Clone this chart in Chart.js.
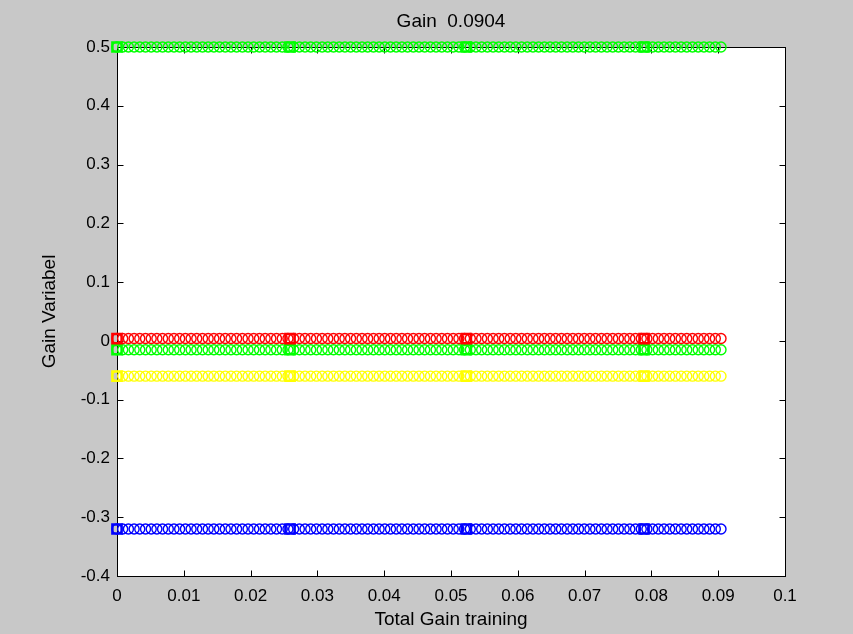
<!DOCTYPE html>
<html>
<head>
<meta charset="utf-8">
<script src="https://cdn.jsdelivr.net/npm/chart.js@4"></script>
<style>
html,body{margin:0;padding:0;background:#c8c8c8;}
#wrap{width:853px;height:634px;}
</style>
</head>
<body>
<div id="wrap"><canvas id="c" width="853" height="634"></canvas></div>
<script>
// Total Gain training values (x) at each recorded step
const trainingX = [0,0.00085,0.00171,0.00256,0.00341,0.00427,0.00512,0.00597,0.00682,0.00768,
0.00853,0.00938,0.01024,0.01109,0.01194,0.0128,0.01365,0.0145,0.01535,0.01621,
0.01706,0.01791,0.01877,0.01962,0.02047,0.02133,0.02218,0.02303,0.02388,0.02474,
0.02559,0.02644,0.0273,0.02815,0.029,0.02986,0.03071,0.03156,0.03241,0.03327,
0.03412,0.03497,0.03583,0.03668,0.03753,0.03839,0.03924,0.04009,0.04094,0.0418,
0.04265,0.0435,0.04436,0.04521,0.04606,0.04692,0.04777,0.04862,0.04947,0.05033,
0.05118,0.05203,0.05289,0.05374,0.05459,0.05545,0.0563,0.05715,0.058,0.05886,
0.05971,0.06056,0.06142,0.06227,0.06312,0.06398,0.06483,0.06568,0.06653,0.06739,
0.06824,0.06909,0.06995,0.0708,0.07165,0.07251,0.07336,0.07421,0.07506,0.07592,
0.07677,0.07762,0.07848,0.07933,0.08018,0.08104,0.08189,0.08274,0.08359,0.08445,
0.0853,0.08615,0.08701,0.08786,0.08871,0.08957,0.09042];
// Square markers
const squareX = [0, 0.0259, 0.0523, 0.0789];
// Gain variable levels per series
const seriesNames = ["green top", "red", "green", "yellow", "blue"];
const seriesLevels = [0.5, 0.004, -0.015, -0.06, -0.32];
const seriesColors = ["#00ff00", "#ff0000", "#00ff00", "#ffff00", "#0000ff"];
// Tick labels
const xTicks = ["0","0.01","0.02","0.03","0.04","0.05","0.06","0.07","0.08","0.09","0.1"];
const yTicks = ["0.5","0.4","0.3","0.2","0.1","0","-0.1","-0.2","-0.3","-0.4"];
const titleText = "Gain  0.0904";

const FAMILY = "'Liberation Sans', Arial, sans-serif";
const FONT = {family: FAMILY, size: 17};
const BIG = {family: FAMILY, size: 19, weight: 'normal'};

const datasets = [];
seriesLevels.forEach((lvl, i) => {
  datasets.push({
    label: seriesNames[i] + " squares",
    data: squareX.map(x => ({x: x, y: lvl})),
    pointStyle: 'rect', pointRadius: 6.5, borderWidth: 2.5,
    borderColor: seriesColors[i], backgroundColor: 'rgba(0,0,0,0)',
    showLine: false, clip: false
  });
  datasets.push({
    label: seriesNames[i],
    data: trainingX.map(x => ({x: x, y: lvl})),
    pointStyle: 'circle', pointRadius: 5, borderWidth: 1.4,
    borderColor: seriesColors[i], backgroundColor: 'rgba(0,0,0,0)',
    showLine: false, clip: false
  });
});

const boxPlugin = {
  id: 'box',
  beforeDraw(chart) {
    const {ctx, chartArea: a} = chart;
    ctx.save();
    ctx.fillStyle = '#c8c8c8';
    ctx.fillRect(0, 0, chart.width, chart.height);
    ctx.fillStyle = '#ffffff';
    ctx.fillRect(a.left, a.top, a.right - a.left, a.bottom - a.top);
    ctx.restore();
  },
  beforeDatasetsDraw(chart) {
    const {ctx, chartArea: a, scales} = chart;
    ctx.save();
    ctx.strokeStyle = '#000000';
    ctx.lineWidth = 1;
    const L = Math.round(a.left) + 0.5, R = Math.round(a.right) + 0.5;
    const T = Math.round(a.top) + 0.5, B = Math.round(a.bottom) + 0.5;
    ctx.strokeRect(L, T, R - L, B - T);
    const tl = 6;
    ctx.beginPath();
    scales.x.ticks.forEach(t => {
      const px = Math.round(scales.x.getPixelForValue(t.value)) + 0.5;
      ctx.moveTo(px, B); ctx.lineTo(px, B - tl);
      ctx.moveTo(px, T); ctx.lineTo(px, T + tl);
    });
    scales.y.ticks.forEach(t => {
      const py = Math.round(scales.y.getPixelForValue(t.value)) + 0.5;
      ctx.moveTo(L, py); ctx.lineTo(L + tl, py);
      ctx.moveTo(R, py); ctx.lineTo(R - tl, py);
    });
    ctx.stroke();
    ctx.restore();
  }
};

new Chart(document.getElementById('c'), {
  type: 'scatter',
  data: {datasets},
  plugins: [boxPlugin],
  options: {
    responsive: false,
    animation: false,
    events: [],
    layout: {padding: {left: 0, right: 68, top: 0, bottom: 0}},
    plugins: {
      legend: {display: false},
      tooltip: {enabled: false},
      title: {
        display: true, text: titleText, fullSize: false,
        color: '#000000', font: BIG,
        padding: {top: 10, bottom: 14.2}
      }
    },
    scales: {
      x: {
        type: 'linear', min: 0, max: 0.1,
        grid: {display: false, drawTicks: false},
        border: {display: false},
        afterFit(s) { s.height = 58; },
        ticks: {
          stepSize: 0.01, padding: 10, color: '#000000', font: FONT,
          maxRotation: 0, autoSkip: false,
          callback: (v, i) => xTicks[i]
        },
        title: {display: true, text: 'Total Gain training', color: '#000000', font: BIG, padding: {top: 0, bottom: 2.6}}
      },
      y: {
        type: 'linear', min: -0.4, max: 0.5,
        grid: {display: false, drawTicks: false},
        border: {display: false},
        afterFit(s) { s.width = 117; },
        ticks: {
          stepSize: 0.1, padding: 7, color: '#000000', font: FONT, autoSkip: false,
          callback: (v, i) => yTicks[yTicks.length - 1 - i]
        },
        title: {display: true, text: 'Gain Variabel', color: '#000000', font: BIG, padding: {top: 38.6, bottom: 0}}
      }
    }
  }
});
</script>
</body>
</html>
